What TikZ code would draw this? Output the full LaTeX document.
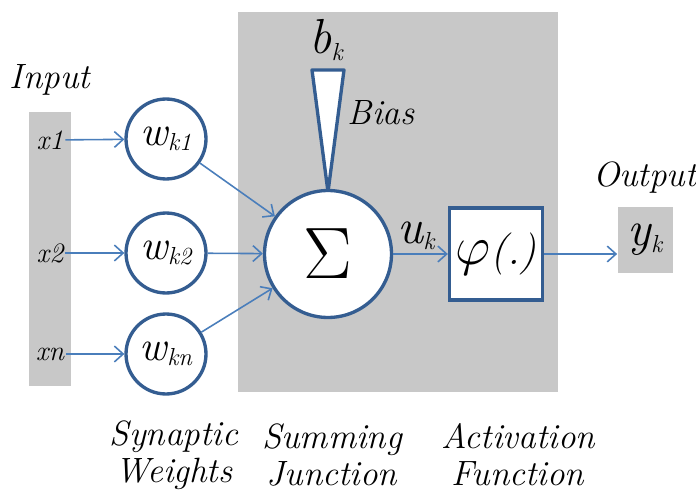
\documentclass[tikz,border=0pt]{standalone}
\usepackage{fontspec}
\usetikzlibrary{arrows.meta}
\definecolor{panel}{RGB}{200,200,200}
\definecolor{ring}{RGB}{52,93,145}
\definecolor{wire}{RGB}{74,126,187}
\newcommand{\lowsub}[1]{\raisebox{-0.3ex}{\fontsize{14}{14}\selectfont #1}}

\begin{document}
\begin{tikzpicture}[x=0.02cm,y=-0.02cm,
  every node/.style={font=\rmfamily\itshape\fontsize{20}{21}\selectfont},
  weight/.style={circle,draw=ring,line width=1.9pt,fill=white,minimum size=1.6cm,inner sep=0pt},
  link/.style={wire,line width=0.9pt,-{Straight Barb[length=5pt,width=9pt]}},
  inlabel/.style={font=\rmfamily\itshape\fontsize{16}{16}\selectfont,inner sep=1pt}]
\useasboundingbox (0,0) rectangle (696,493);
\fill[panel] (29,112) rectangle (71,386);
\fill[panel] (238,12) rectangle (558,392);
\draw[ring,fill=white,line width=1.9pt,line join=round]
       (312,70) -- (344,70) -- (328,192) -- cycle;
\node (input) at (50,80) {Input};
\node (output) at (645,178) {Output};
\node[inlabel] (x1) at (50,140) {x1};
\node[inlabel] (x2) at (50,253) {x2};
\node[inlabel] (xn) at (50,354) {xn};
\node[weight] (w1) at (166,139) {\fontsize{24}{24}\selectfont w\lowsub{k1}};
\node[weight] (w2) at (166,253) {\fontsize{24}{24}\selectfont w\lowsub{k2}};
\node[weight] (wn) at (166,354) {\fontsize{24}{24}\selectfont w\lowsub{kn}};
\node[circle,draw=ring,line width=1.9pt,fill=white,minimum size=2.54cm,inner sep=0pt]
     (sum) at (328,254) {\scalebox{2}{$\Sigma$}};
\node[draw=ring,line width=1.9pt,fill=white,minimum width=1.86cm,minimum height=1.84cm,inner sep=0pt]
     (act) at (496,254) {\fontsize{24}{24}\selectfont\scalebox{1.25}{$\varphi$}(.)};
\node[fill=panel,minimum width=1.1cm,minimum height=1.34cm,inner sep=0pt]
     (yk) at (645,240) {\fontsize{28}{28}\selectfont y\lowsub{k}};
\node (bk) at (326,40) {\fontsize{28}{28}\selectfont b\lowsub{k}};
\node (bias) at (381,113) {Bias};
\node (uk) at (416,236) {\fontsize{28}{28}\selectfont u\lowsub{k}};
\draw[link] (x1) -- (w1);
\draw[link] (x2) -- (w2);
\draw[link] (xn) -- (wn);
\draw[link] (w1) -- (sum);
\draw[link] (w2) -- (sum);
\draw[link] (wn) -- (sum);
\draw[link] (sum) -- (act);
\draw[link] (act.east) -- (act.east -| yk.west);
\node[align=center] (synaptic) at (174,455) {Synaptic\\Weights};
\node[align=center] (summing) at (332,455) {Summing\\Junction};
\node[align=center] (activation) at (518,455) {Activation\\Function};
\end{tikzpicture}
\end{document}
